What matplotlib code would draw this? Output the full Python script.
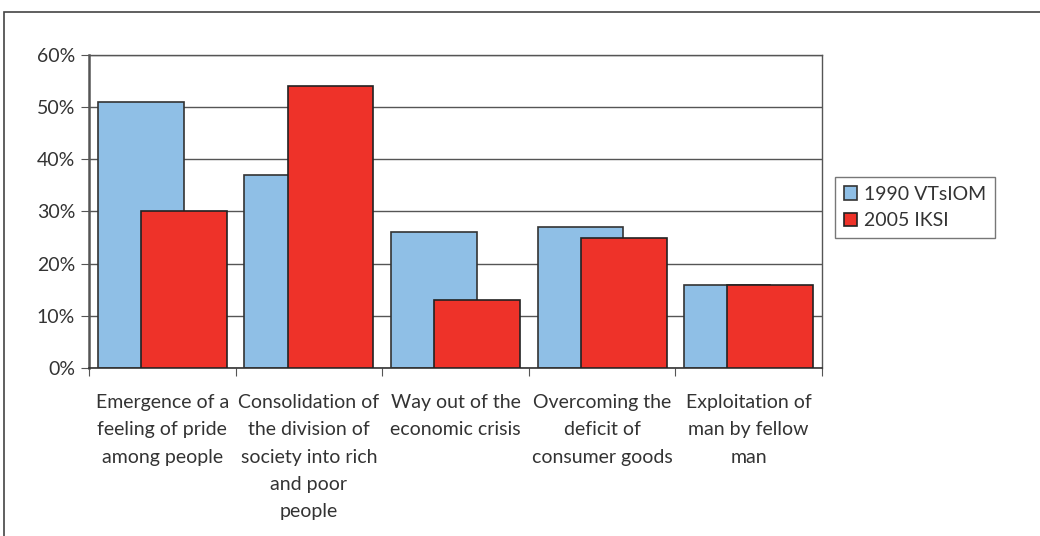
import numpy as np
import matplotlib
matplotlib.use("Agg")
import matplotlib.pyplot as plt
from matplotlib.patches import Rectangle

# data
categories = [
    "Emergence of a\nfeeling of pride\namong people",
    "Consolidation of\nthe division of\nsociety into rich\nand poor\npeople",
    "Way out of the\neconomic crisis",
    "Overcoming the\ndeficit of\nconsumer goods",
    "Exploitation of\nman by fellow\nman",
]
series_names = ["1990 VTsIOM", "2005 IKSI"]
vals_1990 = [51, 37, 26, 27, 16]
vals_2005 = [30, 54, 13, 25, 16]
yticks = [0, 10, 20, 30, 40, 50, 60]

plt.rcParams["font.family"] = ["Lato", "DejaVu Sans"]
text_col = "#333333"
fs = 14

fig = plt.figure(figsize=(10.4, 5.36), dpi=100)

# outer frame of the chart
fig.patches.append(Rectangle((4 / 1040, -0.1), 1.2, (536 - 12) / 536 + 0.1,
                             transform=fig.transFigure, fill=False,
                             edgecolor="#444444", linewidth=1.2))

ax = fig.add_axes([89 / 1040, (536 - 368) / 536, (822 - 89) / 1040, (368 - 55) / 536])

x = np.arange(len(categories))
width = 0.585
off = 0.147
ax.bar(x - off, vals_1990, width, color="#8fbfe6", edgecolor="#333333",
       linewidth=1.2, label=series_names[0], zorder=2)
ax.bar(x + off, vals_2005, width, color="#ee3229", edgecolor="#222222",
       linewidth=1.2, label=series_names[1], zorder=3)

ax.set_xlim(-0.5, len(categories) - 0.5)
ax.set_ylim(0, 60)
ax.set_yticks(yticks)
ax.set_yticklabels([f"{t}%" for t in yticks])
ax.yaxis.grid(True, color="#555555", linewidth=1.0, zorder=0)
ax.set_axisbelow(True)

ax.set_xticks(np.arange(-0.5, len(categories), 1.0))
ax.set_xticklabels([])
ax.set_xticks(x, minor=True)
ax.set_xticklabels(categories, minor=True, fontsize=fs, color=text_col,
                   linespacing=1.72)
ax.tick_params(axis="x", which="minor", length=0, pad=19)
ax.tick_params(axis="x", which="major", length=6, color="#555555", direction="out")
ax.tick_params(axis="y", length=6, color="#555555", labelsize=fs,
               labelcolor=text_col, pad=4)

for side in ["top", "right"]:
    ax.spines[side].set_color("#555555")
    ax.spines[side].set_linewidth(1.0)
ax.spines["left"].set_color("#555555")
ax.spines["left"].set_linewidth(1.8)
ax.spines["bottom"].set_color("#333333")
ax.spines["bottom"].set_linewidth(1.2)

leg = fig.legend(loc="upper left", bbox_to_anchor=(835 / 1040, 1 - 177 / 536),
                 fontsize=fs, frameon=True, fancybox=False, handlelength=0.7,
                 handleheight=0.7, handletextpad=0.35, borderpad=0.45,
                 labelspacing=0.5, borderaxespad=0)
leg.get_frame().set_edgecolor("#555555")
leg.get_frame().set_linewidth(1.0)
for t in leg.get_texts():
    t.set_color(text_col)

fig.savefig("out.png", dpi=100)
